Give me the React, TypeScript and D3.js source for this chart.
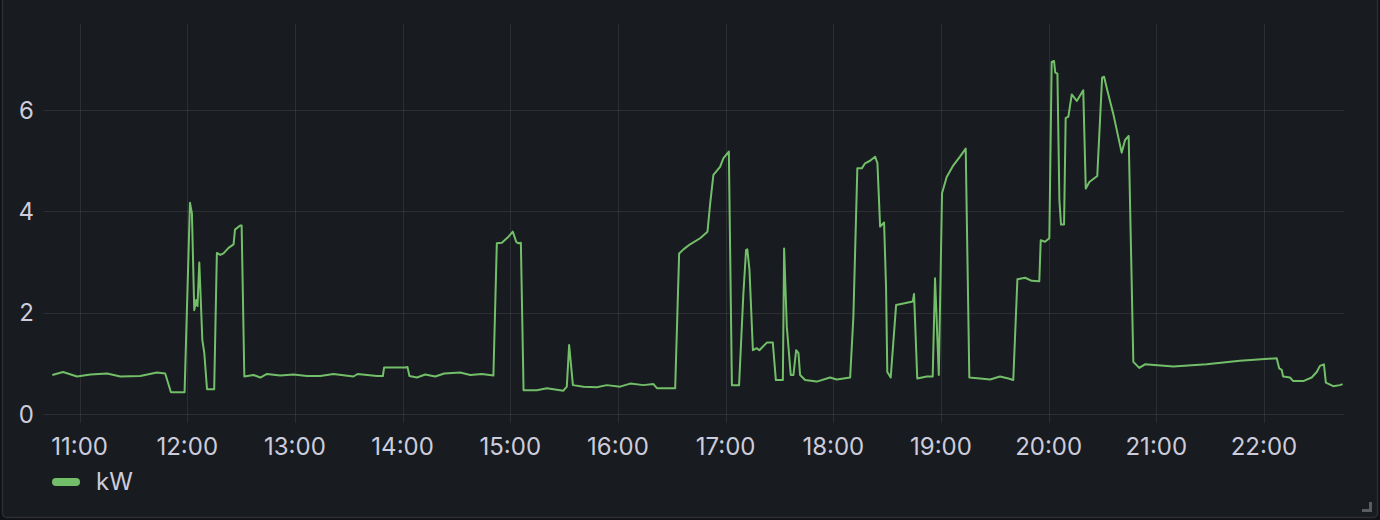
import React from "react";
import * as d3 from "d3";

// Time of each sample, minutes after 10:00
const minutes = [
  44.8, 50.8, 58.6, 66.0, 75.3, 82.7, 93.8, 103.1, 107.7, 110.9, 118.5,
  121.5, 122.6, 123.9, 125.0, 125.7, 126.7, 128.4, 129.5, 131.0, 135.0,
  136.5, 138.4, 140.2, 143.0, 145.8, 146.6, 149.5, 150.3, 151.8, 156.9,
  160.7, 164.4, 171.8, 179.2, 186.7, 194.1, 201.5, 212.6, 214.9, 225.7,
  229.0, 229.7, 241.4, 242.7, 243.8, 248.0, 252.6, 258.2, 263.2, 272.1,
  277.7, 284.2, 290.6, 292.5, 295.3, 299.0, 301.4, 303.3, 304.6, 305.9,
  307.4, 314.8, 320.4, 329.6, 331.5, 332.8, 334.9, 340.8, 348.2, 353.8,
  361.2, 366.8, 374.2, 379.8, 381.7, 391.9, 394.1, 396.5, 400.2, 405.8,
  409.9, 411.4, 413.2, 416.9, 418.8, 421.8, 423.5, 427.5, 429.9, 431.4,
  432.1, 433.3, 435.2, 437.4, 438.8, 443.0, 446.3, 448.0, 451.9, 452.6,
  454.1, 456.3, 457.8, 459.3, 460.6, 461.5, 464.3, 470.8, 478.2, 481.9,
  489.4, 491.2, 493.4, 495.9, 497.7, 500.5, 503.3, 504.6, 506.1, 508.3,
  509.4, 510.1, 512.0, 515.0, 519.1, 524.3, 525.0, 526.8, 532.1, 535.4,
  536.7, 538.8, 540.6, 543.2, 546.9, 550.6, 553.8, 555.8, 561.8, 567.4,
  572.9, 577.6, 580.3, 582.6, 586.9, 590.6, 594.8, 595.6, 598.0, 600.4,
  601.7, 603.0, 603.7, 604.9, 606.0, 606.9, 608.6, 609.5, 611.0, 612.9,
  615.7, 619.3, 620.7, 622.7, 627.1, 629.8, 630.9, 632.7, 636.0, 640.7,
  642.6, 644.6, 647.2, 650.5, 653.7, 669.5, 688.1, 706.6, 727.1, 728.5,
  729.9, 730.7, 734.5, 736.3, 741.9, 746.6, 749.4, 751.2, 753.4, 754.5,
  758.6, 762.3, 763.8,
];

// Power in kW
const kw = [
  0.77, 0.83, 0.74, 0.78, 0.8, 0.74, 0.75, 0.82, 0.8, 0.43, 0.43,
  4.17, 3.96, 2.05, 2.25, 2.13, 2.99, 1.46, 1.2, 0.49, 0.49,
  3.18, 3.14, 3.17, 3.28, 3.35, 3.64, 3.72, 3.72, 0.74, 0.77,
  0.72, 0.79, 0.76, 0.78, 0.75, 0.75, 0.79, 0.74, 0.79, 0.75,
  0.75, 0.92, 0.92, 0.93, 0.75, 0.72, 0.78, 0.74, 0.8, 0.82,
  0.77, 0.79, 0.76, 3.37, 3.38, 3.5, 3.6, 3.4, 3.37, 3.38,
  0.47, 0.47, 0.51, 0.46, 0.54, 1.36, 0.57, 0.54, 0.53, 0.57,
  0.54, 0.6, 0.57, 0.59, 0.51, 0.51, 3.17, 3.25, 3.35, 3.47,
  3.6, 4.16, 4.72, 4.88, 5.05, 5.18, 0.57, 0.57, 2.38, 3.24,
  3.25, 2.84, 1.26, 1.3, 1.26, 1.41, 1.41, 0.67, 0.67, 3.27,
  1.72, 0.77, 0.77, 1.26, 1.2, 0.77, 0.67, 0.64, 0.72, 0.68,
  0.72, 1.92, 4.85, 4.85, 4.95, 5.0, 5.08, 4.95, 3.7, 3.78,
  2.51, 0.83, 0.72, 2.15, 2.18, 2.22, 2.37, 0.7, 0.74, 0.74,
  2.68, 0.77, 4.36, 4.68, 4.91, 5.08, 5.24, 0.72, 0.7, 0.68,
  0.74, 0.7, 0.67, 2.66, 2.69, 2.63, 2.62, 3.43, 3.4, 3.47,
  6.95, 6.97, 6.74, 6.72, 4.22, 3.74, 3.74, 5.84, 5.87, 6.31,
  6.18, 6.39, 4.45, 4.58, 4.7, 6.64, 6.66, 6.39, 5.93, 5.16,
  5.41, 5.49, 1.03, 0.91, 0.98, 0.94, 0.98, 1.05, 1.1, 0.9,
  0.87, 0.74, 0.72, 0.65, 0.65, 0.72, 0.83, 0.95, 0.98, 0.62,
  0.55, 0.57, 0.59,
];

const hourTicks = [11, 12, 13, 14, 15, 16, 17, 18, 19, 20, 21, 22];
const yTicks = [0, 2, 4, 6];
const seriesName = "kW";

const base = new Date(2024, 0, 1, 10, 0, 0).getTime();
const toDate = (m: number) => new Date(base + m * 60000);

const W = 1380;
const H = 520;
const plot = { left: 52.5, right: 1344, top: 24, bottom: 414 };

export default function App() {
  const x = d3
    .scaleTime()
    .domain([toDate(44.9), toDate(764.6)])
    .range([plot.left, plot.right]);
  const y = d3.scaleLinear().domain([0, 7.7]).range([plot.bottom, plot.top]);

  const pts = minutes.map((m, i) => ({ t: toDate(m), v: kw[i] }));
  const line = d3
    .line<{ t: Date; v: number }>()
    .x((d) => x(d.t))
    .y((d) => y(d.v));

  const fmt = d3.timeFormat("%H:%M");
  const font = "Inter, 'Noto Sans', sans-serif";
  const grid = "rgba(204,204,220,0.11)";
  const text = "#ccccdc";

  return (
    <div style={{ position: "fixed", left: 0, top: 0, width: W, height: H }}>
      <svg width={W} height={H} style={{ display: "block" }}>
        <rect x={0} y={0} width={W} height={H} fill="#111217" />
        <rect
          x={2.5}
          y={-10}
          width={W - 5}
          height={H + 10 - 2.5}
          rx={4}
          fill="#181b1f"
          stroke="#2c2e34"
          strokeWidth={1.5}
        />
        {/* horizontal grid */}
        {yTicks.map((v) => (
          <line
            key={"gy" + v}
            x1={plot.left - 9}
            x2={plot.right}
            y1={Math.round(y(v)) + 0.5}
            y2={Math.round(y(v)) + 0.5}
            stroke={grid}
            strokeWidth={1}
          />
        ))}
        {/* vertical grid */}
        {hourTicks.map((h) => {
          const xx = Math.round(x(toDate((h - 10) * 60))) + 0.5;
          return (
            <line
              key={"gx" + h}
              x1={xx}
              x2={xx}
              y1={plot.top}
              y2={plot.bottom + 9}
              stroke={grid}
              strokeWidth={1}
            />
          );
        })}
        {/* y labels */}
        {yTicks.map((v) => (
          <text
            key={"ly" + v}
            x={34}
            y={y(v) + 8.5}
            textAnchor="end"
            fill={text}
            fontFamily={font}
            fontSize={24}
          >
            {v}
          </text>
        ))}
        {/* x labels */}
        {hourTicks.map((h) => {
          const d = toDate((h - 10) * 60);
          return (
            <text
              key={"lx" + h}
              x={x(d)}
              y={455}
              textAnchor="middle"
              fill={text}
              fontFamily={font}
              fontSize={24}
            >
              {fmt(d)}
            </text>
          );
        })}
        <path
          d={line(pts) || ""}
          fill="none"
          stroke="#73bf69"
          strokeWidth={2}
          strokeLinejoin="round"
        />
        {/* legend */}
        <rect x={52} y={478} width={28} height={8} rx={4} fill="#73bf69" />
        <text x={96} y={490} fill={text} fontFamily={font} fontSize={24}>
          {seriesName}
        </text>
        {/* resize handle */}
        <path d="M1369,502 h3 v10 h-10 v-3 h7 z" fill="#5b5c61" />
      </svg>
    </div>
  );
}
